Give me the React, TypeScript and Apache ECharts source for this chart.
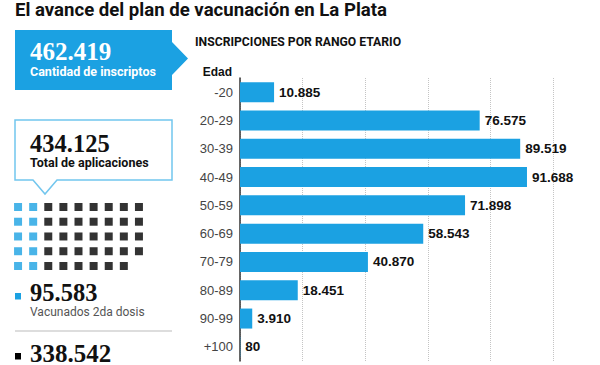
import React, { useEffect, useRef } from "react";
import * as echarts from "echarts";

const ageGroups = ["-20", "20-29", "30-39", "40-49", "50-59", "60-69", "70-79", "80-89", "90-99", "+100"];
const registrations = [10885, 76575, 89519, 91688, 71898, 58543, 40870, 18451, 3910, 80];
const totalRegistered = 462419;
const totalApplications = 434125;
const secondDose = 95583;
const firstDoseOnly = 338542;
const unitPerSquare = 10000;
const xTicks = [0, 20000, 40000, 60000, 80000, 100000];

const BLUE = "#1ba1e2";
const fmt = (v: number) => String(v).replace(/\B(?=(\d{3})+(?!\d))/g, ".");

export default function App() {
  const ref = useRef<HTMLDivElement>(null);
  useEffect(() => {
    document.body.style.margin = "0";
    const chart = echarts.init(ref.current!, null, { renderer: "svg" });
    const blueN = Math.round(secondDose / unitPerSquare);
    const blackN = Math.round(firstDoseOnly / unitPerSquare);
    const blueSq: number[][] = [];
    for (let i = 0; i < blueN; i++) blueSq.push([i % 2, Math.floor(i / 2)]);
    const blackSq: number[][] = [];
    for (let j = 0; j < blackN; j++) blackSq.push([2 + (j % 7), Math.floor(j / 7)]);

    const sans = "Roboto";
    const serif = "Liberation Serif";
    chart.setOption({
      animation: false,
      grid: [
        { left: 240, top: 78, width: 313, height: 283 },
        { left: 10.5, top: 199.6, width: 136, height: 73.75 },
      ],
      xAxis: [
        {
          gridIndex: 0,
          type: "value",
          min: xTicks[0],
          max: xTicks[xTicks.length - 1],
          interval: xTicks[1] - xTicks[0],
          axisLabel: { show: false },
          axisLine: { show: false },
          axisTick: { show: false },
          splitLine: { show: true, lineStyle: { type: "dotted", color: "#c4c4c4", width: 1 } },
        },
        { gridIndex: 1, type: "value", min: -0.5, max: 8.5, show: false },
      ],
      yAxis: [
        {
          gridIndex: 0,
          type: "category",
          inverse: true,
          data: ageGroups,
          axisLine: { show: true, lineStyle: { color: "#333", width: 1.5 } },
          axisTick: { show: false },
          axisLabel: { color: "#444", fontSize: 13, fontFamily: "Liberation Sans", margin: 7 },
        },
        { gridIndex: 1, type: "value", min: -0.5, max: 4.5, inverse: true, show: false },
      ],
      series: [
        {
          type: "bar",
          xAxisIndex: 0,
          yAxisIndex: 0,
          data: registrations,
          barWidth: 20,
          itemStyle: { color: BLUE },
          label: {
            show: true,
            position: "right",
            distance: 5,
            color: "#111",
            fontWeight: "bold",
            fontSize: 13.5,
            fontFamily: "Liberation Sans",
            formatter: (p: any) => fmt(p.value),
          },
        },
        {
          type: "scatter",
          xAxisIndex: 1,
          yAxisIndex: 1,
          data: blueSq,
          symbol: "rect",
          symbolSize: 8,
          itemStyle: { color: BLUE },
        },
        {
          type: "scatter",
          xAxisIndex: 1,
          yAxisIndex: 1,
          data: blackSq,
          symbol: "rect",
          symbolSize: 8,
          itemStyle: { color: "#000" },
        },
      ],
      graphic: [
        {
          type: "text",
          left: 15,
          top: 0,
          style: { text: "El avance del plan de vacunación en La Plata", fontSize: 18.6, fontWeight: "bold", fontFamily: sans, fill: "#111" },
        },
        {
          type: "text",
          x: 195,
          y: 42,
          style: { text: "INSCRIPCIONES POR RANGO ETARIO", fontSize: 12.2, fontWeight: "bold", fontFamily: sans, fill: "#111", verticalAlign: "middle" },
        },
        {
          type: "text",
          x: 232,
          y: 72,
          style: { text: "Edad", fontSize: 12, fontWeight: "bold", fontFamily: "Liberation Sans", fill: "#111", align: "right", verticalAlign: "middle" },
        },
        {
          type: "polygon",
          shape: { points: [[15, 30], [172, 30], [172, 42], [188, 58.5], [172, 75], [172, 90], [15, 90]] },
          style: { fill: BLUE },
        },
        {
          type: "text",
          x: 30,
          y: 51,
          style: { text: fmt(totalRegistered), fontSize: 25, fontWeight: "bold", fontFamily: serif, fill: "#fff", verticalAlign: "middle" },
        },
        {
          type: "text",
          x: 30,
          y: 71,
          style: { text: "Cantidad de inscriptos", fontSize: 12.5, fontWeight: "bold", fontFamily: sans, fill: "#fff", verticalAlign: "middle" },
        },
        {
          type: "polygon",
          shape: { points: [[15, 120], [172, 120], [172, 180], [57, 180], [45, 194], [33, 180], [15, 180]] },
          style: { fill: "#fff", stroke: "#72c6ee", lineWidth: 1.5 },
        },
        {
          type: "text",
          x: 30,
          y: 143,
          style: { text: fmt(totalApplications), fontSize: 24.5, fontWeight: "bold", fontFamily: serif, fill: "#111", verticalAlign: "middle" },
        },
        {
          type: "text",
          x: 30,
          y: 162,
          style: { text: "Total de aplicaciones", fontSize: 12.5, fontWeight: "bold", fontFamily: sans, fill: "#111", verticalAlign: "middle" },
        },
        { type: "rect", shape: { x: 15, y: 293, width: 6, height: 6.5 }, style: { fill: BLUE } },
        {
          type: "text",
          x: 30,
          y: 292,
          style: { text: fmt(secondDose), fontSize: 24.5, fontWeight: "bold", fontFamily: serif, fill: "#111", verticalAlign: "middle" },
        },
        {
          type: "text",
          x: 30,
          y: 312,
          style: { text: "Vacunados 2da dosis", fontSize: 12, fontFamily: sans, fill: "#555", verticalAlign: "middle" },
        },
        { type: "line", shape: { x1: 15, y1: 331, x2: 172, y2: 331 }, style: { stroke: "#bbb", lineWidth: 1 } },
        { type: "rect", shape: { x: 15, y: 353, width: 6, height: 6.5 }, style: { fill: "#000" } },
        {
          type: "text",
          x: 30,
          y: 353,
          style: { text: fmt(firstDoseOnly), fontSize: 25, fontWeight: "bold", fontFamily: serif, fill: "#111", verticalAlign: "middle" },
        },
      ],
    });
    return () => chart.dispose();
  }, []);
  return <div ref={ref} style={{ width: 600, height: 365, background: "#fff" }} />;
}
